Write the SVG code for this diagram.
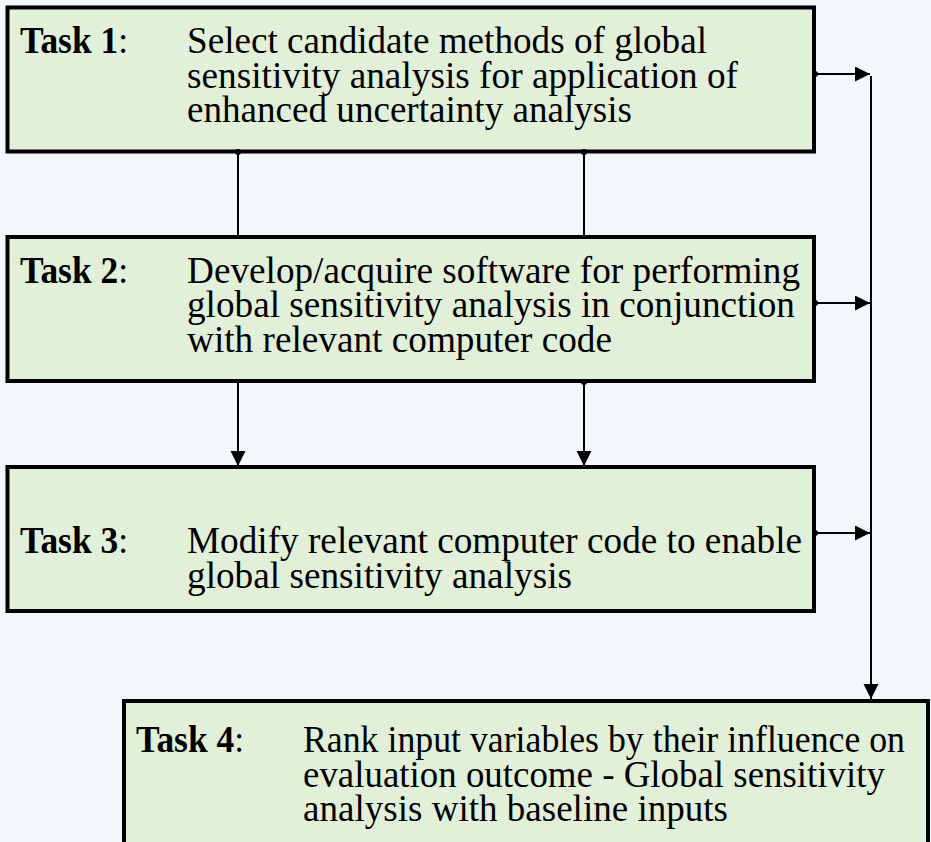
<svg xmlns="http://www.w3.org/2000/svg" width="931" height="842" viewBox="0 0 931 842">
  <style>
    .box { fill: #e2efd9; stroke: #000; stroke-width: 4; }
    .link { fill: none; stroke: #000; stroke-width: 2; }
    .lbl { font-weight: bold; }
  </style>
  <defs>
    <marker id="arrow" markerUnits="userSpaceOnUse" markerWidth="16" markerHeight="16" refX="15" refY="7.5" orient="auto">
      <path d="M0,0 L15,7.5 L0,15 Z" fill="#000"/>
    </marker>
    <marker id="dot" markerUnits="userSpaceOnUse" markerWidth="8" markerHeight="8" refX="4" refY="4" orient="auto">
      <circle cx="4" cy="4" r="3" fill="#000"/>
    </marker>
  </defs>
  <rect width="931" height="842" fill="#f3f6fb"/>

  <g font-family="'Liberation Serif', 'Times New Roman', Tinos, 'DejaVu Serif', serif" font-size="37" fill="#000">
    <g id="task1">
      <rect class="box" x="7.5" y="7.5" width="806.5" height="144"/>
      <text x="20" y="53" textLength="108" lengthAdjust="spacingAndGlyphs"><tspan class="lbl">Task 1</tspan>:</text>
      <text>
        <tspan x="187" y="53" textLength="520" lengthAdjust="spacingAndGlyphs">Select candidate methods of global</tspan>
        <tspan x="187" y="87.5" textLength="551" lengthAdjust="spacingAndGlyphs">sensitivity analysis for application of</tspan>
        <tspan x="187" y="122" textLength="445" lengthAdjust="spacingAndGlyphs">enhanced uncertainty analysis</tspan>
      </text>
    </g>

    <g id="task2">
      <rect class="box" x="7.5" y="237" width="806.5" height="144"/>
      <text x="20" y="282.5" textLength="108" lengthAdjust="spacingAndGlyphs"><tspan class="lbl">Task 2</tspan>:</text>
      <text>
        <tspan x="187" y="282.5" textLength="613" lengthAdjust="spacingAndGlyphs">Develop/acquire software for performing</tspan>
        <tspan x="187" y="317" textLength="608" lengthAdjust="spacingAndGlyphs">global sensitivity analysis in conjunction</tspan>
        <tspan x="187" y="351.5" textLength="425" lengthAdjust="spacingAndGlyphs">with relevant computer code</tspan>
      </text>
    </g>

    <g id="task3">
      <rect class="box" x="7.5" y="467" width="806.5" height="144"/>
      <text x="20" y="553" textLength="108" lengthAdjust="spacingAndGlyphs"><tspan class="lbl">Task 3</tspan>:</text>
      <text>
        <tspan x="187" y="553" textLength="615" lengthAdjust="spacingAndGlyphs">Modify relevant computer code to enable</tspan>
        <tspan x="187" y="587.5" textLength="385" lengthAdjust="spacingAndGlyphs">global sensitivity analysis</tspan>
      </text>
    </g>

    <g id="task4">
      <rect class="box" x="124" y="701" width="804" height="150"/>
      <text x="136" y="752" textLength="108" lengthAdjust="spacingAndGlyphs"><tspan class="lbl">Task 4</tspan>:</text>
      <text>
        <tspan x="303" y="752" textLength="602" lengthAdjust="spacingAndGlyphs">Rank input variables by their influence on</tspan>
        <tspan x="303" y="786.5" textLength="582" lengthAdjust="spacingAndGlyphs">evaluation outcome - Global sensitivity</tspan>
        <tspan x="303" y="821" textLength="425" lengthAdjust="spacingAndGlyphs">analysis with baseline inputs</tspan>
      </text>
    </g>
  </g>

  <g id="connectors">
    <!-- task 1 to task 2 -->
    <path class="link" d="M238,152 V236" marker-start="url(#dot)"/>
    <path class="link" d="M584,152 V236" marker-start="url(#dot)"/>
    <!-- task 2 to task 3 -->
    <path class="link" d="M238,382 V466" marker-end="url(#arrow)"/>
    <path class="link" d="M584,382 V466" marker-start="url(#dot)" marker-end="url(#arrow)"/>
    <!-- side feeds into the collector line -->
    <path class="link" d="M815,74 H870" marker-start="url(#dot)" marker-end="url(#arrow)"/>
    <path class="link" d="M815,303 H870" marker-start="url(#dot)" marker-end="url(#arrow)"/>
    <path class="link" d="M815,533 H870" marker-start="url(#dot)" marker-end="url(#arrow)"/>
    <!-- collector line down to task 4 -->
    <path class="link" d="M871,76 V699" marker-end="url(#arrow)"/>
  </g>
</svg>
